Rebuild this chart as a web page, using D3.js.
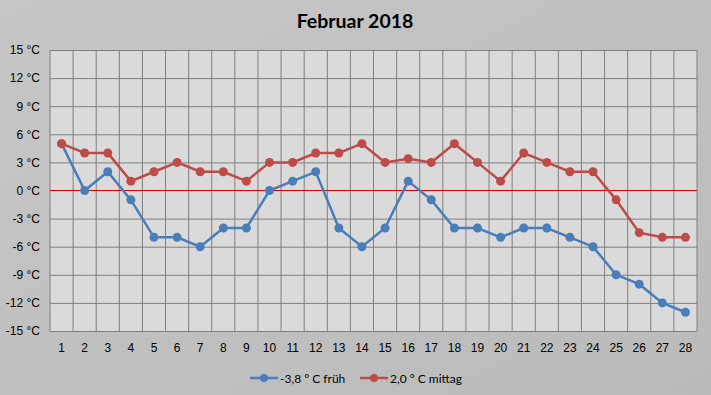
<!DOCTYPE html>
<html lang="de">
<head>
<meta charset="utf-8">
<style>
html, body { margin: 0; padding: 0; background: #c0c0c0; }
svg { display: block; font-family: Lato, "Open Sans", sans-serif; }
.grid line { stroke: #7f7f7f; stroke-width: 1; }
.grid path { display: none; }
.axis text { fill: #000; font-size: 12px; }
.axis path, .axis line { display: none; }
</style>
</head>
<body>
<svg width="711" height="395"></svg>
<script src="https://d3js.org/d3.v7.min.js"></script>
<script>
var days = d3.range(1, 29);
var frueh = [5, 0, 2, -1, -5, -5, -6, -4, -4, 0, 1, 2, -4, -6, -4, 1, -1, -4, -4, -5, -4, -4, -5, -6, -9, -10, -12, -13];
var mittag = [5, 4, 4, 1, 2, 3, 2, 2, 1, 3, 3, 4, 4, 5, 3, 3.4, 3, 5, 3, 1, 4, 3, 2, 2, -1, -4.5, -5, -5];
var yTicks = [-15, -12, -9, -6, -3, 0, 3, 6, 9, 12, 15];
var seriesNames = ["-3,8 ° C früh", "2,0 ° C mittag"];
var seriesColors = ["#4a7ebb", "#be4b48"];

var svg = d3.select("svg");
var margin = {left: 50, top: 50, right: 14, bottom: 64};
var width = 711 - margin.left - margin.right;
var height = 395 - margin.top - margin.bottom;

// background gradient
var defs = svg.append("defs");
var grad = defs.append("linearGradient").attr("id", "bg").attr("x1", 0).attr("y1", 0).attr("x2", 1).attr("y2", 1);
grad.append("stop").attr("offset", "0%").attr("stop-color", "#c6c6c6");
grad.append("stop").attr("offset", "100%").attr("stop-color", "#bababa");
svg.append("rect").attr("width", 711).attr("height", 395).attr("fill", "url(#bg)");

svg.append("text")
    .attr("x", 355).attr("y", 28)
    .attr("text-anchor", "middle")
    .style("font-size", "19.5px").style("font-weight", "bold")
    .text("Februar 2018");

var g = svg.append("g").attr("transform", "translate(" + margin.left + "," + margin.top + ")");

var x = d3.scaleBand().domain(days).range([0, width]);
var y = d3.scaleLinear().domain([-15, 15]).range([height, 0]);

g.append("rect").attr("width", width).attr("height", height).attr("fill", "#dadada");

// vertical grid at band edges
g.append("g").attr("class", "grid")
    .selectAll("line")
    .data(days.concat([29]))
    .enter().append("line")
    .attr("x1", function(d) { return d === 29 ? width : x(d); })
    .attr("x2", function(d) { return d === 29 ? width : x(d); })
    .attr("y1", 0).attr("y2", height);

g.append("g").attr("class", "grid")
    .call(d3.axisLeft(y).tickValues(yTicks.filter(function(d) { return d !== 0; }))
        .tickSize(-width).tickFormat(""));

// zero line
g.append("line")
    .attr("x1", 0).attr("x2", width)
    .attr("y1", Math.floor(y(0)) + 0.5).attr("y2", Math.floor(y(0)) + 0.5)
    .attr("stroke", "#e00000").attr("stroke-width", 1.2);

g.append("g").attr("class", "axis")
    .call(d3.axisLeft(y).tickValues(yTicks).tickSize(0).tickPadding(10)
        .tickFormat(function(d) { return d + " °C"; }));

g.append("g").attr("class", "axis")
    .attr("transform", "translate(0," + height + ")")
    .call(d3.axisBottom(x).tickSize(0).tickPadding(12));

var line = d3.line()
    .x(function(d, i) { return x(days[i]) + x.bandwidth() / 2; })
    .y(function(d) { return y(d); });

[frueh, mittag].forEach(function(s, k) {
    g.append("path")
        .datum(s)
        .attr("fill", "none")
        .attr("stroke", seriesColors[k])
        .attr("stroke-width", 2.5)
        .attr("d", line);
    g.selectAll(".pt" + k)
        .data(s)
        .enter().append("circle")
        .attr("cx", function(d, i) { return x(days[i]) + x.bandwidth() / 2; })
        .attr("cy", function(d) { return y(d); })
        .attr("r", 4.5)
        .attr("fill", seriesColors[k]);
});

// legend
var legendX = [250, 360];
seriesNames.forEach(function(name, k) {
    var lg = svg.append("g").attr("transform", "translate(" + legendX[k] + ",378)");
    lg.append("line").attr("x1", 0).attr("x2", 28).attr("y1", 0).attr("y2", 0)
        .attr("stroke", seriesColors[k]).attr("stroke-width", 2.5);
    lg.append("circle").attr("cx", 14).attr("cy", 0).attr("r", 4).attr("fill", seriesColors[k]);
    lg.append("text").attr("x", 30).attr("y", 4.5)
        .style("font-size", "12px").text(name);
});
</script>
</body>
</html>
